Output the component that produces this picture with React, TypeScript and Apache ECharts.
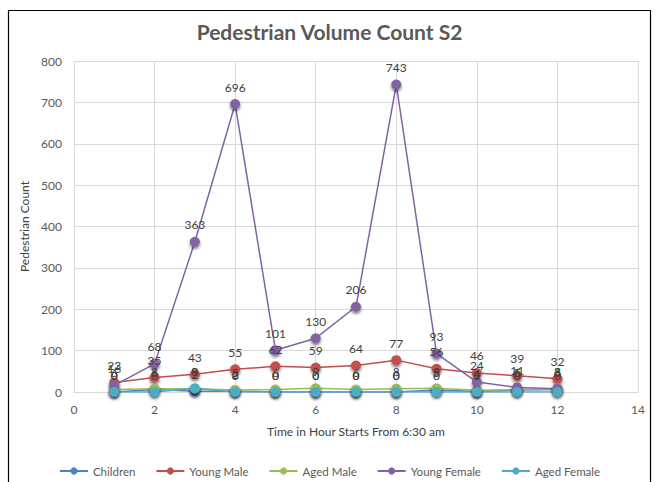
import React, { useEffect, useRef } from "react";
import * as echarts from "echarts";

// Hour index after 6:30 am
const hours = [1, 2, 3, 4, 5, 6, 7, 8, 9, 10, 11, 12];
const children = [0, 6, 2, 2, 0, 0, 0, 0, 5, 1, 5, 6];
const youngMale = [23, 35, 43, 55, 62, 59, 64, 77, 56, 46, 39, 32];
const agedMale = [6, 8, 8, 5, 6, 9, 6, 8, 9, 4, 6, 8];
const youngFemale = [16, 68, 363, 696, 101, 130, 206, 743, 93, 24, 11, 8];
const agedFemale = [0, 0, 9, 0, 0, 0, 0, 0, 0, 0, 0, 0];

const seriesDefs = [
  { name: "Children", values: children, color: "#4F81BD" },
  { name: "Young Male", values: youngMale, color: "#C0504D" },
  { name: "Aged Male", values: agedMale, color: "#9BBB59" },
  { name: "Young Female", values: youngFemale, color: "#8064A2" },
  { name: "Aged Female", values: agedFemale, color: "#4BACC6" },
];

const FONT = "Lato, 'Open Sans', sans-serif";

export default function App() {
  const ref = useRef<HTMLDivElement>(null);

  useEffect(() => {
    if (!ref.current) return;
    const chart = echarts.init(ref.current, undefined, { renderer: "svg" });
    chart.setOption({
      animation: false,
      backgroundColor: "#ffffff",
      textStyle: { fontFamily: FONT },
      title: {
        text: "Pedestrian Volume Count S2",
        left: "center",
        top: 16,
        textStyle: { fontFamily: FONT, fontSize: 21, fontWeight: "bold", color: "#595959" },
      },
      graphic: [
        {
          type: "rect",
          shape: { x: 8.5, y: 10.5, width: 642, height: 490 },
          style: { fill: "none", stroke: "#000000", lineWidth: 1.2 },
          silent: true,
        },
      ],
      grid: { left: 74, right: 21, top: 61, bottom: 90 },
      xAxis: {
        type: "value",
        min: 0,
        max: 14,
        interval: 2,
        name: "Time in Hour Starts From 6:30 am",
        nameLocation: "middle",
        nameGap: 33,
        nameTextStyle: { fontFamily: FONT, fontSize: 12, color: "#404040" },
        axisLine: { show: true, lineStyle: { color: "#d9d9d9" } },
        axisTick: { show: false },
        axisLabel: { fontFamily: FONT, fontSize: 12, color: "#595959", margin: 11 },
        splitLine: { show: true, lineStyle: { color: "#d9d9d9" } },
      },
      yAxis: {
        type: "value",
        min: 0,
        max: 800,
        interval: 100,
        name: "Pedestrian Count",
        nameLocation: "middle",
        nameGap: 37,
        nameTextStyle: { fontFamily: FONT, fontSize: 12, color: "#404040" },
        axisLine: { show: false },
        axisTick: { show: false },
        axisLabel: { fontFamily: FONT, fontSize: 12, color: "#595959", margin: 12 },
        splitLine: { show: true, lineStyle: { color: "#d9d9d9" } },
      },
      legend: {
        bottom: 0,
        left: "center",
        itemWidth: 28,
        itemHeight: 9,
        itemGap: 20,
        textStyle: { fontFamily: FONT, fontSize: 11.5, color: "#595959" },
        data: seriesDefs.map((s) => s.name),
      },
      series: seriesDefs.map((s) => ({
        name: s.name,
        type: "line",
        data: hours.map((h, i) => [h, s.values[i]]),
        symbol: "circle",
        symbolSize: 10,
        color: s.color,
        lineStyle: { width: 1.5, color: s.color },
        itemStyle: {
          color: s.color,
          shadowBlur: 3,
          shadowColor: "rgba(0,0,0,0.55)",
          shadowOffsetY: 2,
        },
        label: {
          show: true,
          position: "top",
          distance: 6,
          fontFamily: FONT,
          fontSize: 12,
          color: "#404040",
          formatter: (p: any) => String(p.value[1]),
        },
      })),
    });
    return () => chart.dispose();
  }, []);

  return (
    <div
      ref={ref}
      style={{ position: "fixed", left: 0, top: 0, width: 659, height: 482 }}
    />
  );
}
